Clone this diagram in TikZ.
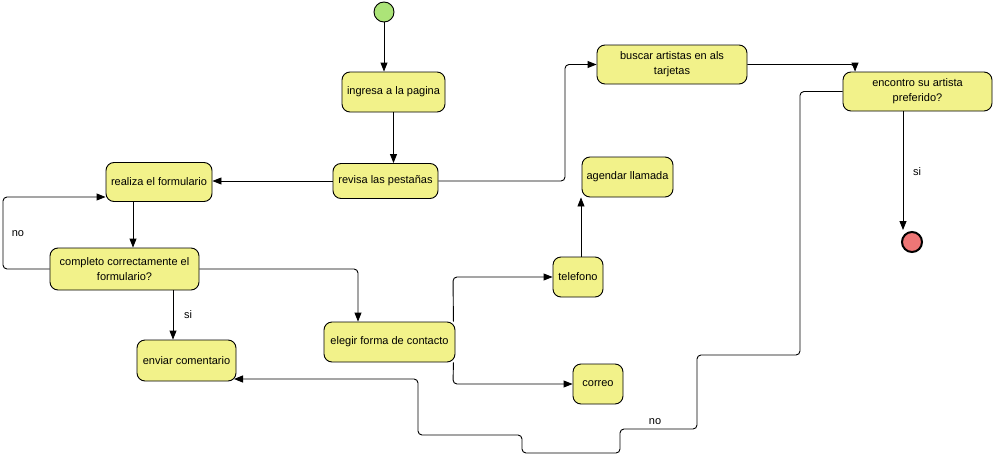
\documentclass[tikz,border=0pt]{standalone}
\usepackage{fontspec}
\setmainfont{Liberation Sans}
\usetikzlibrary{arrows.meta,calc}
\definecolor{actfill}{RGB}{242,242,138}
\definecolor{startfill}{RGB}{172,228,120}
\definecolor{endfill}{RGB}{238,118,118}
\tikzset{
  act/.style={draw=black, line width=0.9pt, fill=actfill, rounded corners=8pt, inner sep=0pt, align=center,
    font=\fontsize{11}{15}\selectfont},
  flow/.style={draw=black, line width=0.9pt, rounded corners=4pt, -{Triangle[length=9pt,width=7pt]}},
  lbl/.style={font=\fontsize{11}{13}\selectfont, inner sep=0pt},
}
\begin{document}
\begin{tikzpicture}[x=1pt,y=-1pt]
\useasboundingbox[fill=white] (0,0) rectangle (996,458);
% nodes
\node[circle, draw=black, line width=0.9pt, fill=startfill, minimum size=20pt, inner sep=0pt] (start) at (384,12) {};
\node[act, minimum width=103pt, minimum height=40pt] (ingresa) at (393.5,92) {ingresa a la pagina};
\node[act, minimum width=105pt, minimum height=35pt] (revisa) at (385.5,181) {revisa las pestañas};
\node[act, minimum width=106pt, minimum height=39pt] (realiza) at (159,182) {realiza el formulario};
\node[act, minimum width=149pt, minimum height=42pt] (completo) at (124.5,269) {completo correctamente el\\formulario?};
\node[act, minimum width=99pt, minimum height=41pt] (enviar) at (186.5,360.5) {enviar comentario};
\node[act, minimum width=131pt, minimum height=40pt] (elegir) at (389.5,342) {elegir forma de contacto};
\node[act, minimum width=50pt, minimum height=40pt] (telefono) at (578,277) {telefono};
\node[act, minimum width=50pt, minimum height=40pt] (correo) at (598,384) {correo};
\node[act, minimum width=91pt, minimum height=40pt] (agendar) at (627.5,177) {agendar llamada};
\node[act, minimum width=150pt, minimum height=39pt] (buscar) at (672,64.5) {buscar artistas en als\\tarjetas};
\node[act, minimum width=149pt, minimum height=39pt] (encontro) at (917.5,91.5) {encontro su artista\\preferido?};
\node[circle, draw=black, line width=2pt, fill=endfill, minimum size=20pt, inner sep=0pt] (fin) at (912,242) {};
\coordinate (finin) at (903,230);
% connectors
\draw[flow] (start) -- (start |- ingresa.north);
\draw[flow] (ingresa.south) -- (ingresa.south |- revisa.north);
\draw[flow] (revisa.west) -- (revisa.west -| realiza.east);
\draw[flow] ([xshift=-26pt]realiza.south) -- ([xshift=-26pt]realiza.south |- completo.north);
\draw[flow] (completo.west) -- (3,269) -- (3,197) -- (realiza.west |- 0,197);
\node[lbl] (lno1) at (18,234) {no};
\draw[flow] (completo.east) -- (358,269) -- (358,269 |- elegir.north);
\draw[flow] ([xshift=48.5pt]completo.south) -- ([xshift=48.5pt]completo.south |- enviar.north);
\node[lbl] (lsi1) at (188,315) {si};
\draw[flow] (revisa.east) -- (565,181) -- (565,64.5) -- (buscar.west);
\draw[flow] (buscar.east) -- (855,64.5) -- (855,64.5 |- encontro.north);
\draw[flow] ([xshift=-14.5pt]encontro.south) -- (finin);
\node[lbl] (lsi2) at (917,172) {si};
\draw[flow] (encontro.west) -- (800,91.5) -- (800,355) -- (697,355) -- (697,429) -- (620,429) -- (620,453) -- (522,453) -- (522,435) -- (418,435) -- (418,379) -- (234,379);
\node[lbl] (lno2) at (655,422) {no};
\draw[flow] ([xshift=-2pt]elegir.north east) -- (453,277) -- (telefono.west);
\draw[flow] ([xshift=-2pt]elegir.south east) -- (453,384) -- (correo.west);
\draw[flow] ([xshift=3pt]telefono.north) -- ([xshift=3pt]telefono.north |- agendar.south);
\end{tikzpicture}
\end{document}
